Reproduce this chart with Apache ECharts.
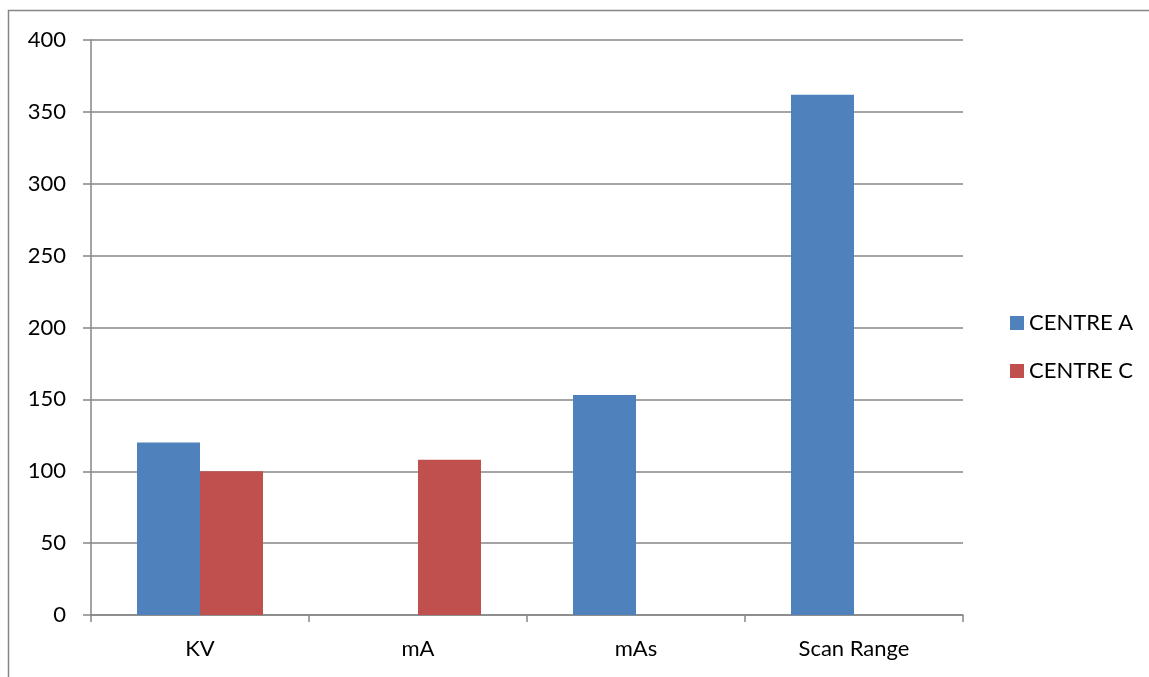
<!DOCTYPE html>
<html>
<head>
<meta charset="utf-8">
<script src="https://cdn.jsdelivr.net/npm/echarts@6/dist/echarts.min.js"></script>
<style>
html,body{margin:0;padding:0;background:#fff;}
#chart{width:1149px;height:677px;}
</style>
</head>
<body>
<div id="chart"></div>
<script>
var categories = ['KV', 'mA', 'mAs', 'Scan Range'];
var centreA = [120, null, 153, 362];
var centreC = [100, 108, null, null];
var seriesNames = ['CENTRE A', 'CENTRE C'];

var chart = echarts.init(document.getElementById('chart'));
var font = 'Lato, "Open Sans", sans-serif';
var gray = '#868686';
chart.setOption({
  animation: false,
  backgroundColor: '#fff',
  graphic: [{
    type: 'rect',
    shape: {x: 8.5, y: 10.5, width: 1400, height: 900},
    style: {fill: 'none', stroke: gray, lineWidth: 1.5},
    silent: true
  }],
  grid: {left: 91, right: 186, top: 40, bottom: 62},
  legend: {
    orient: 'vertical',
    left: 1005,
    top: 307,
    itemWidth: 14,
    itemHeight: 14,
    itemGap: 26,
    icon: 'rect',
    textStyle: {fontFamily: font, fontSize: 22, color: '#000'},
    data: seriesNames
  },
  xAxis: {
    type: 'category',
    data: categories,
    axisLine: {lineStyle: {color: gray, width: 1.5}},
    axisTick: {show: true, length: 7, lineStyle: {color: gray, width: 1.5}},
    axisLabel: {fontFamily: font, fontSize: 22, color: '#000', margin: 23}
  },
  yAxis: {
    type: 'value',
    min: 0,
    max: 400,
    interval: 50,
    axisLine: {show: true, lineStyle: {color: gray, width: 1.5}},
    axisTick: {show: true, length: 8, lineStyle: {color: gray, width: 1.5}},
    splitLine: {lineStyle: {color: gray, width: 1.5}},
    axisLabel: {fontFamily: font, fontSize: 22, color: '#000', margin: 25}
  },
  series: [{
    name: seriesNames[0],
    type: 'bar',
    data: centreA,
    barWidth: 63,
    barGap: '0%',
    itemStyle: {color: '#4F81BD'}
  }, {
    name: seriesNames[1],
    type: 'bar',
    data: centreC,
    barWidth: 63,
    barGap: '0%',
    itemStyle: {color: '#C0504D'}
  }]
});
</script>
</body>
</html>
